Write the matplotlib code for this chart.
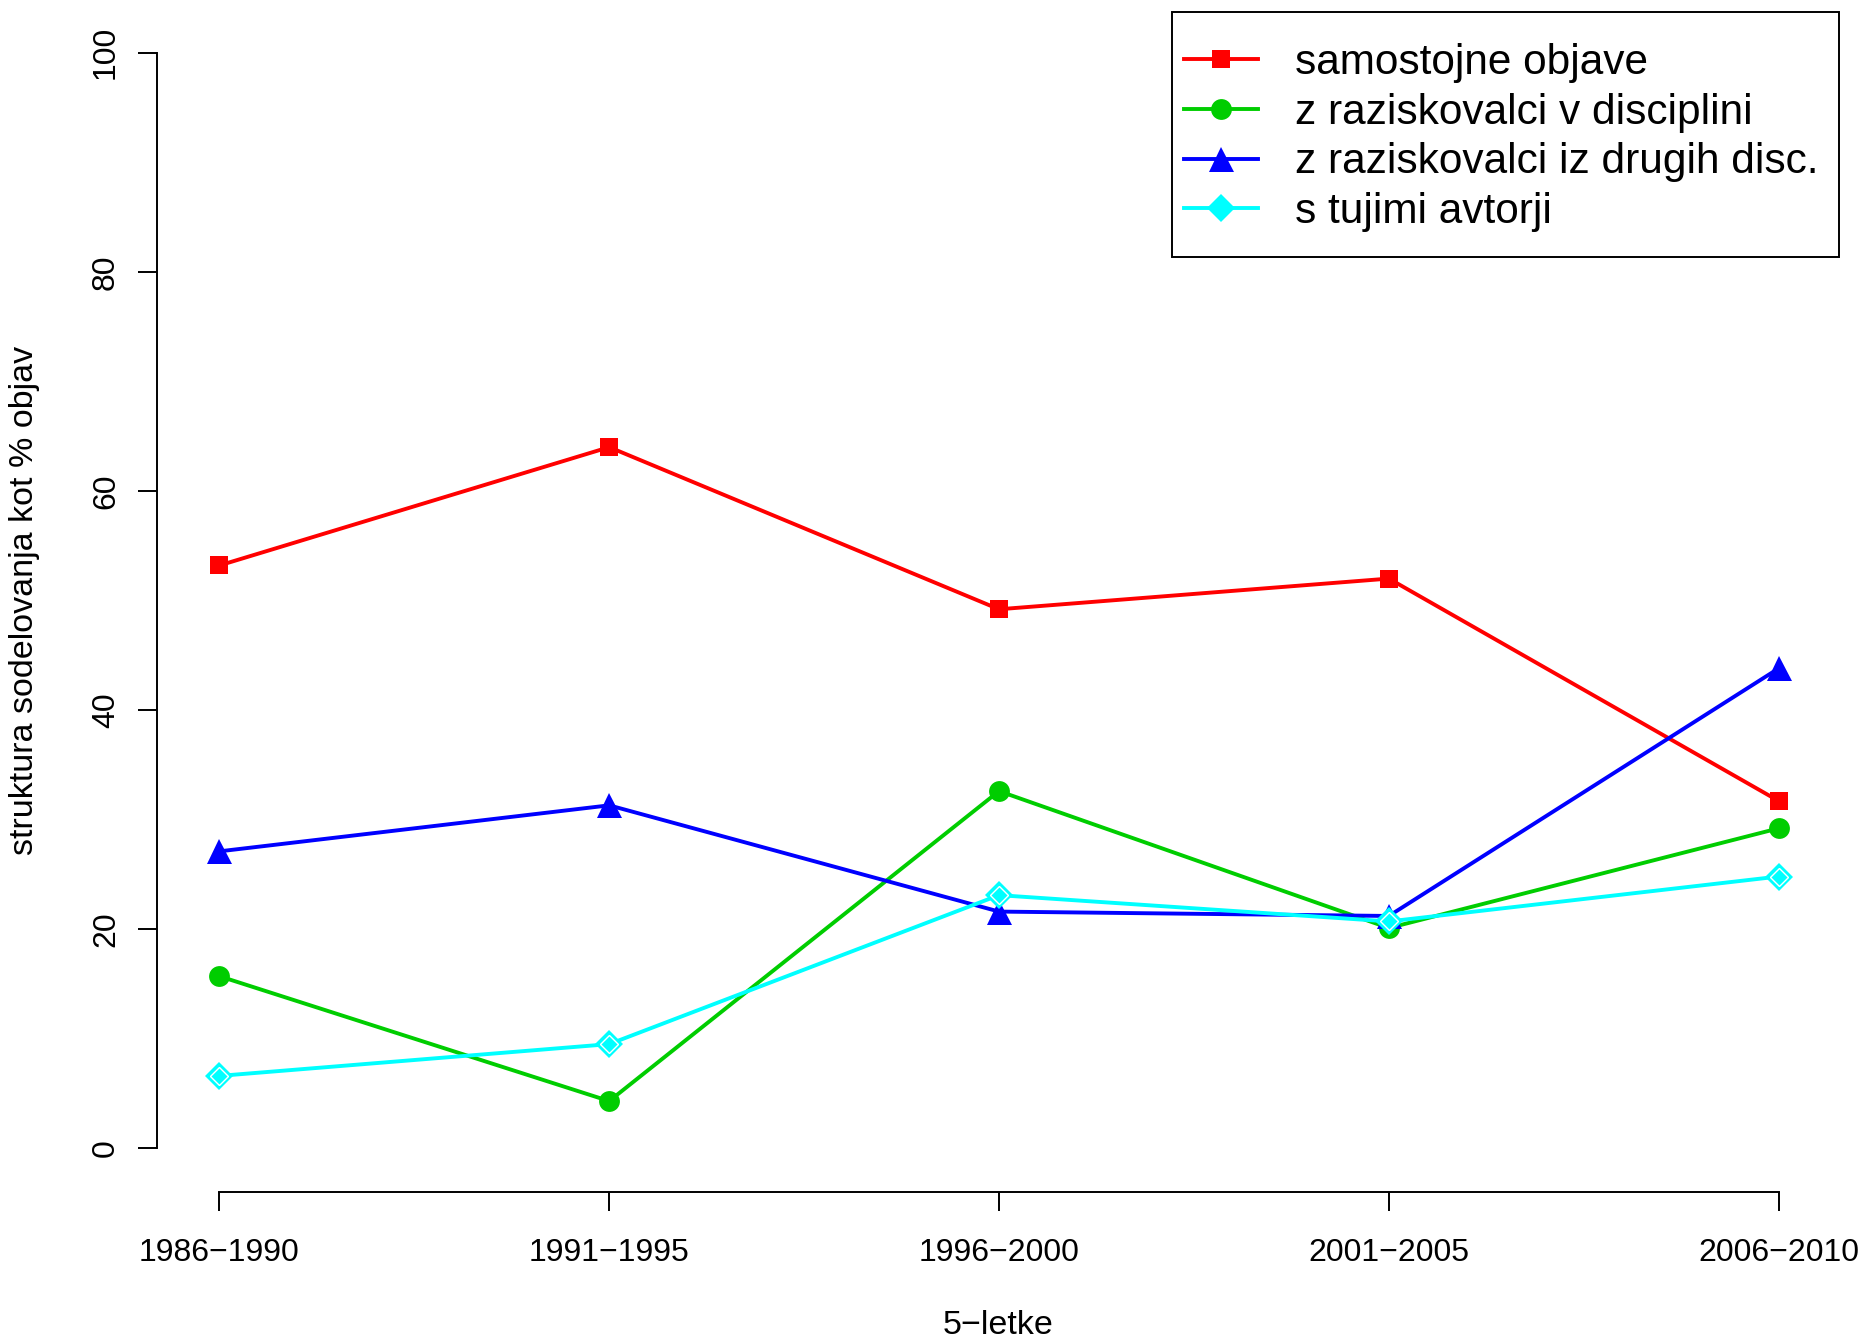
import matplotlib
matplotlib.use('Agg')
import matplotlib.pyplot as plt
from matplotlib.lines import Line2D
from matplotlib.patches import Rectangle

plt.rcParams['font.family'] = ['Liberation Sans', 'DejaVu Sans']

# data
periods = ['1986−1990', '1991−1995', '1996−2000', '2001−2005', '2006−2010']
samostojne = [53.2, 64.0, 49.2, 52.0, 31.7]
v_disciplini = [15.7, 4.3, 32.6, 20.1, 29.2]
drugih_disc = [27.1, 31.3, 21.6, 21.2, 43.8]
tuji = [6.6, 9.5, 23.1, 20.7, 24.8]

labels = ['samostojne objave', 'z raziskovalci v disciplini',
          'z raziskovalci iz drugih disc.', 's tujimi avtorji']

W, H = 1876, 1342
fig = plt.figure(figsize=(W / 100, H / 100), dpi=100)
ax = fig.add_axes([157 / W, (H - 1192) / H, (1841 - 157) / W, (1192 - 9) / H])

x = list(range(len(periods)))
lw = 2.8
ax.plot(x, samostojne, color='#ff0000', lw=lw, marker='s', ms=13, mew=0)
ax.plot(x, v_disciplini, color='#00cd00', lw=lw, marker='o', ms=15, mew=0)
ax.plot(x, drugih_disc, color='#0000ff', lw=lw, marker='^', ms=18, mew=0)
ax.plot(x, tuji, color='#00ffff', lw=lw, marker='D', ms=14, mew=0)
# inner white outline of the diamonds
ax.plot(x, tuji, ls='none', marker='D', ms=9, mfc='#00ffff', mec='white', mew=1.0)

ax.set_xlim(-0.16, 4.16)
ax.set_ylim(-4, 104)
ax.set_xticks(x)
ax.set_xticklabels(periods)
ax.set_yticks([0, 20, 40, 60, 80, 100])
for lab in ax.get_yticklabels():
    lab.set_rotation(90)
    lab.set_va('center')

for s in ['top', 'right']:
    ax.spines[s].set_visible(False)
ax.spines['left'].set_bounds(0, 100)
ax.spines['bottom'].set_bounds(0, 4)
for s in ['left', 'bottom']:
    ax.spines[s].set_linewidth(1.4)
ax.tick_params(axis='both', direction='out', length=14, width=1.4,
               labelsize=23, pad=12)
ax.tick_params(axis='x', pad=19)

fig.text(998 / W, 1 - 1326 / H, '5−letke', ha='center', va='center', fontsize=24.5)
fig.text(25 / W, 1 - 600 / H, 'struktura sodelovanja kot % objav', rotation=90,
         ha='center', va='center', fontsize=24.5)

handles = [
    Line2D([], [], color='#ff0000', lw=lw, marker='s', ms=13, mew=0),
    Line2D([], [], color='#00cd00', lw=lw, marker='o', ms=15, mew=0),
    Line2D([], [], color='#0000ff', lw=lw, marker='^', ms=18, mew=0),
    Line2D([], [], color='#00ffff', lw=lw, marker='D', ms=14, mfc='#00ffff',
           mec='#00ffff', mew=0),
]
leg = fig.legend(handles, labels, loc='upper left',
                 bbox_to_anchor=(1184 / W, 1 - 43 / H),
                 frameon=False, fontsize=30.5, handlelength=1.75,
                 handletextpad=0.87, labelspacing=0.23, borderpad=0,
                 borderaxespad=0)
fig.patches.append(Rectangle((1172 / W, 1 - 257 / H), (1839 - 1172) / W,
                             (257 - 12) / H, transform=fig.transFigure,
                             fill=False, edgecolor='black', lw=1.4))

fig.savefig('out.png', dpi=100)
